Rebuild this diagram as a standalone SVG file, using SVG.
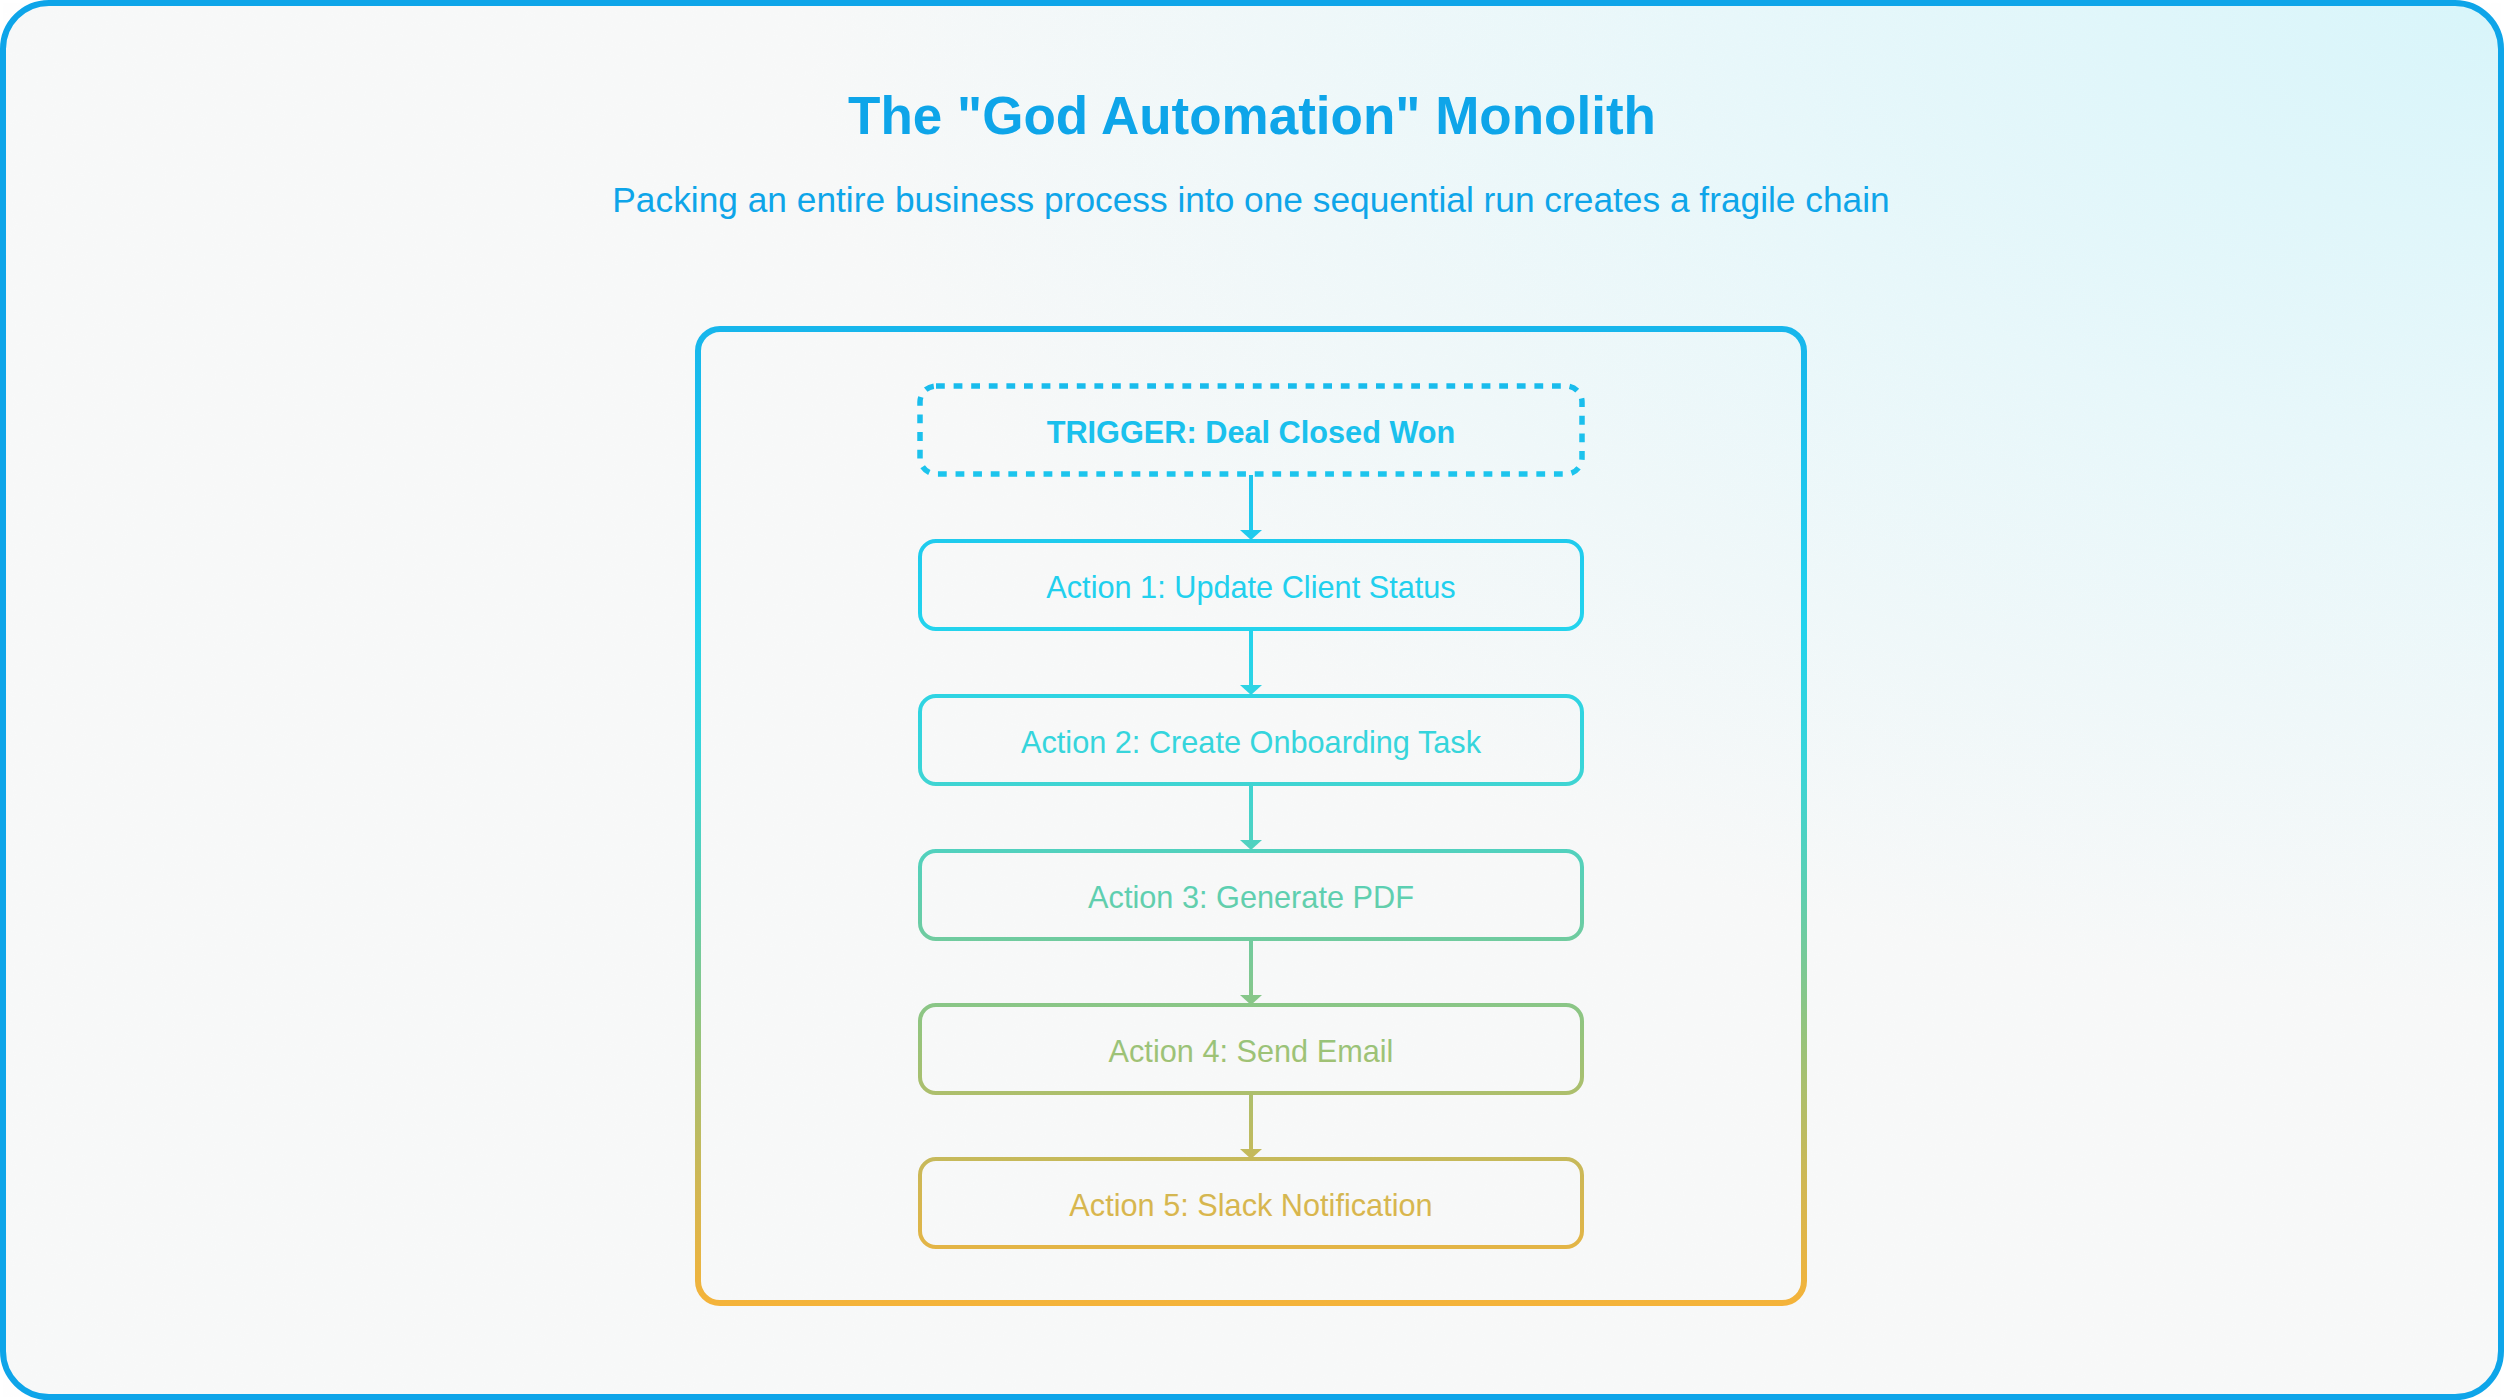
<svg xmlns="http://www.w3.org/2000/svg" width="2504" height="1400" viewBox="0 0 2504 1400">
  <defs>
    <radialGradient id="bgTint" gradientUnits="userSpaceOnUse" cx="2504" cy="0" r="1000" gradientTransform="translate(2504 0) scale(1.7 1) translate(-2504 0)">
      <stop offset="0" stop-color="#D8F6FB"/>
      <stop offset="0.45" stop-color="#E8F8FB"/>
      <stop offset="1" stop-color="#F8F9F9"/>
    </radialGradient>
    <linearGradient id="flow" gradientUnits="userSpaceOnUse" x1="0" y1="329" x2="0" y2="1303">
      <stop offset="0" stop-color="#17B6EC"/>
      <stop offset="0.3" stop-color="#22D3EE"/>
      <stop offset="0.45" stop-color="#3AD5D8"/>
      <stop offset="0.58" stop-color="#5ECFB0"/>
      <stop offset="0.72" stop-color="#94C47D"/>
      <stop offset="0.88" stop-color="#D1B753"/>
      <stop offset="1" stop-color="#F4B33A"/>
    </linearGradient>
    <filter id="grain" x="0" y="0" width="100%" height="100%">
      <feTurbulence type="fractalNoise" baseFrequency="0.9" numOctaves="2" seed="3" result="n"/>
      <feColorMatrix type="matrix" values="0 0 0 0 0.6  0 0 0 0 0.6  0 0 0 0 0.6  0 0 0 0.035 0"/>
    </filter>
    <style>
      .title { font-family: "Liberation Sans", Arial, sans-serif; font-weight: 700; font-size: 53px; fill: #0EA5E9; text-anchor: middle; }
      .subtitle { font-family: "Liberation Sans", Arial, sans-serif; font-size: 35.3px; fill: #0EA5E9; text-anchor: middle; }
      .box { fill: none; stroke: url(#flow); stroke-width: 4; }
      .trigger { fill: none; stroke: url(#flow); stroke-width: 5.5; stroke-dasharray: 8.8 8.8; }
      .label { font-family: "Liberation Sans", Arial, sans-serif; font-size: 30.7px; fill: url(#flow); text-anchor: middle; }
      .label.bold { font-weight: 700; }
      .edge { stroke: url(#flow); stroke-width: 4; fill: none; }
      .head { fill: url(#flow); }
    </style>
  </defs>

  <rect x="0" y="0" width="2504" height="1400" fill="#FFFFFF"/>
  <rect x="3" y="3" width="2498" height="1394" rx="46" fill="url(#bgTint)"/>
  <rect x="3" y="3" width="2498" height="1394" rx="46" filter="url(#grain)"/>
  <rect x="3" y="3" width="2498" height="1394" rx="46" fill="none" stroke="#0EA5E9" stroke-width="6"/>

  <text class="title" x="1252" y="134">The "God Automation" Monolith</text>
  <text class="subtitle" x="1251" y="212">Packing an entire business process into one sequential run creates a fragile chain</text>

  <g id="container">
    <rect x="698" y="329" width="1106" height="974" rx="22" fill="none" stroke="url(#flow)" stroke-width="6"/>
  </g>

  <g id="connectors">
    <path class="edge" d="M1251 475 V531"/>
    <polygon class="head" points="1240,530 1262,530 1251,540"/>
    <path class="edge" d="M1251 630 V686"/>
    <polygon class="head" points="1240,685 1262,685 1251,695"/>
    <path class="edge" d="M1251 785 V841"/>
    <polygon class="head" points="1240,840 1262,840 1251,850"/>
    <path class="edge" d="M1251 940 V996"/>
    <polygon class="head" points="1240,995 1262,995 1251,1005"/>
    <path class="edge" d="M1251 1094 V1150"/>
    <polygon class="head" points="1240,1149 1262,1149 1251,1159"/>
  </g>

  <g id="trigger">
    <rect class="trigger" x="920" y="386" width="662" height="88" rx="16"/>
    <text class="label bold" x="1251" y="443">TRIGGER: Deal Closed Won</text>
  </g>
  <g id="action1">
    <rect class="box" x="920" y="541" width="662" height="88" rx="16"/>
    <text class="label" x="1251" y="598">Action 1: Update Client Status</text>
  </g>
  <g id="action2">
    <rect class="box" x="920" y="696" width="662" height="88" rx="16"/>
    <text class="label" x="1251" y="753">Action 2: Create Onboarding Task</text>
  </g>
  <g id="action3">
    <rect class="box" x="920" y="851" width="662" height="88" rx="16"/>
    <text class="label" x="1251" y="908">Action 3: Generate PDF</text>
  </g>
  <g id="action4">
    <rect class="box" x="920" y="1005" width="662" height="88" rx="16"/>
    <text class="label" x="1251" y="1062">Action 4: Send Email</text>
  </g>
  <g id="action5">
    <rect class="box" x="920" y="1159" width="662" height="88" rx="16"/>
    <text class="label" x="1251" y="1216">Action 5: Slack Notification</text>
  </g>
</svg>
